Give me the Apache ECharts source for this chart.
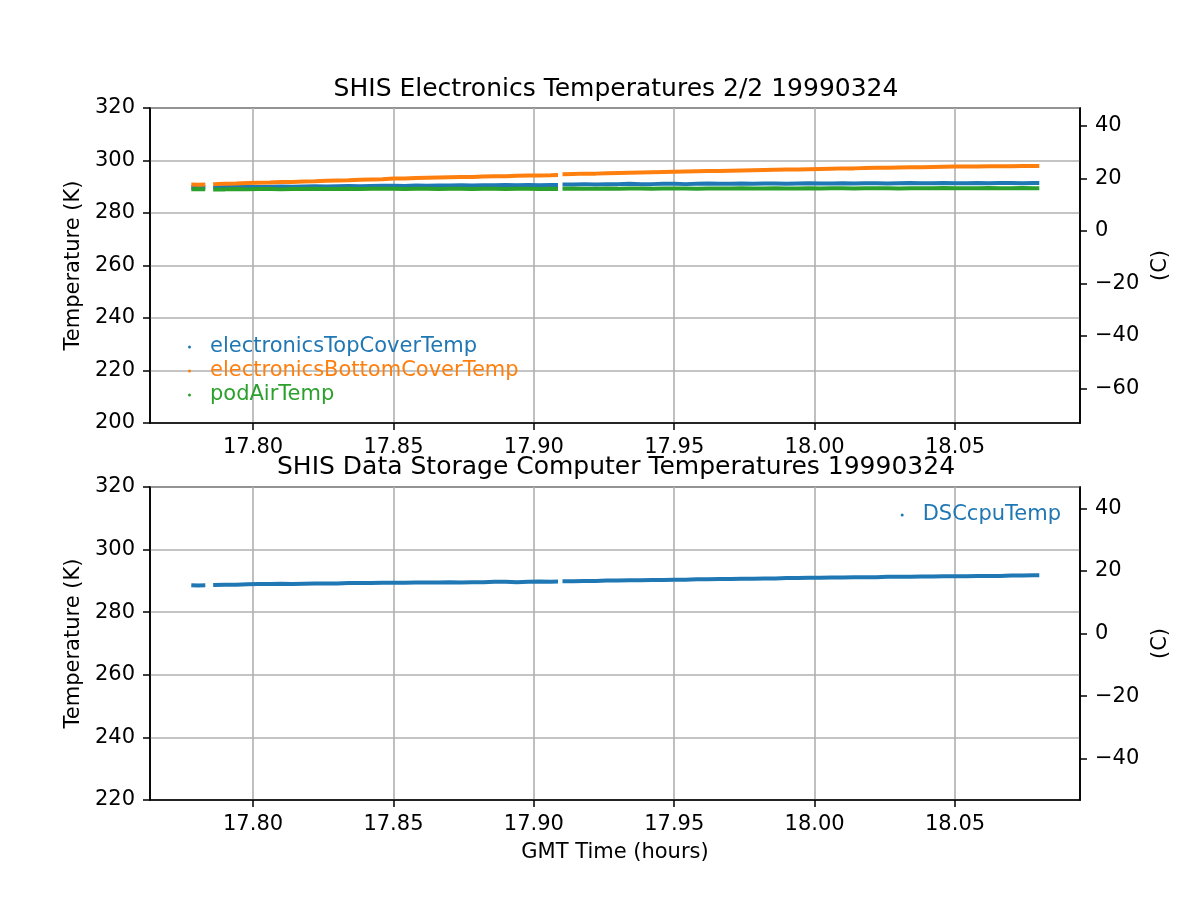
<!DOCTYPE html>
<html>
<head>
<meta charset="utf-8">
<script src="https://cdn.jsdelivr.net/npm/echarts@6/dist/echarts.min.js"></script>
<style>html,body{margin:0;padding:0;background:#fff;}#c{width:1200px;height:900px;}</style>
</head>
<body>
<div id="c"></div>
<script>
// ---- data (GMT hours; null marks gaps in the record) ----
var times = [
  17.7780, 17.7805, 17.7830,
  17.7845,
  17.7858, 17.790, 17.794, 17.798, 17.802, 17.806, 17.810, 17.814, 17.818, 17.822,
  17.826, 17.830, 17.834, 17.838, 17.842, 17.846, 17.850, 17.854, 17.858, 17.862,
  17.866, 17.870, 17.874, 17.878, 17.882, 17.886, 17.890, 17.894, 17.898, 17.902,
  17.906, 17.9086,
  17.9094,
  17.9102, 17.914, 17.918, 17.922, 17.926, 17.930, 17.934, 17.938, 17.942, 17.946,
  17.950, 17.954, 17.958, 17.962, 17.966, 17.970, 17.974, 17.978, 17.982, 17.986,
  17.990, 17.994, 17.998, 18.002, 18.006, 18.010, 18.014, 18.018, 18.022, 18.026,
  18.030, 18.034, 18.038, 18.042, 18.046, 18.050, 18.054, 18.058, 18.062, 18.066,
  18.070, 18.074, 18.078, 18.080
];
var electronicsTopCoverTemp = [
  289.8, 289.9, 289.8,
  null,
  289.8, 289.9, 289.9, 290.0, 289.9, 290.0, 290.1, 290.0, 290.1, 290.2,
  290.1, 290.2, 290.3, 290.2, 290.3, 290.4, 290.4, 290.3, 290.5, 290.4,
  290.5, 290.5, 290.6, 290.5, 290.6, 290.6, 290.7, 290.6, 290.7, 290.6,
  290.7, 290.7,
  null,
  290.9, 290.9, 291.0, 290.9, 291.0, 291.0, 291.1, 291.0, 291.0, 291.1,
  291.1, 291.0, 291.1, 291.2, 291.1, 291.1, 291.2, 291.1, 291.2, 291.2,
  291.1, 291.2, 291.3, 291.2, 291.2, 291.3, 291.2, 291.3, 291.3, 291.2,
  291.3, 291.4, 291.3, 291.3, 291.4, 291.3, 291.3, 291.4, 291.3, 291.4,
  291.4, 291.3, 291.4, 291.4
];
var electronicsBottomCoverTemp = [
  290.9, 290.8, 290.9,
  null,
  291.0, 291.1, 291.2, 291.4, 291.5, 291.6, 291.8, 291.8, 292.0, 292.1,
  292.3, 292.4, 292.5, 292.7, 292.8, 292.9, 293.1, 293.1, 293.3, 293.4,
  293.5, 293.6, 293.7, 293.7, 293.9, 294.0, 294.0, 294.2, 294.3, 294.3,
  294.4, 294.5,
  null,
  294.8, 294.9, 295.0, 295.0, 295.1, 295.2, 295.3, 295.4, 295.5, 295.6,
  295.7, 295.8, 295.9, 296.0, 296.0, 296.1, 296.2, 296.3, 296.4, 296.5,
  296.6, 296.6, 296.7, 296.8, 296.9, 297.0, 297.0, 297.1, 297.2, 297.2,
  297.3, 297.4, 297.4, 297.5, 297.6, 297.7, 297.7, 297.7, 297.8, 297.8,
  297.8, 297.9, 297.9, 297.9
];
var podAirTemp = [
  289.0, 289.1, 289.0,
  null,
  289.0, 289.0, 289.1, 289.0, 289.1, 289.1, 289.0, 289.1, 289.1, 289.2,
  289.1, 289.1, 289.2, 289.1, 289.2, 289.2, 289.2, 289.1, 289.2, 289.2,
  289.1, 289.2, 289.2, 289.1, 289.2, 289.2, 289.1, 289.2, 289.2, 289.1,
  289.2, 289.1,
  null,
  289.2, 289.3, 289.2, 289.2, 289.3, 289.2, 289.3, 289.3, 289.2, 289.3,
  289.3, 289.3, 289.2, 289.3, 289.3, 289.3, 289.4, 289.3, 289.3, 289.4,
  289.3, 289.3, 289.4, 289.3, 289.4, 289.4, 289.3, 289.4, 289.4, 289.4,
  289.3, 289.4, 289.4, 289.4, 289.5, 289.4, 289.4, 289.4, 289.5, 289.4,
  289.4, 289.5, 289.4, 289.4
];
var DSCcpuTemp = [
  288.6, 288.5, 288.6,
  null,
  288.7, 288.8, 288.8, 288.9, 289.0, 289.0, 289.1, 289.0, 289.1, 289.2,
  289.2, 289.2, 289.3, 289.3, 289.3, 289.4, 289.4, 289.4, 289.5, 289.5,
  289.5, 289.6, 289.5, 289.6, 289.6, 289.7, 289.7, 289.6, 289.7, 289.8,
  289.7, 289.8,
  null,
  289.9, 289.9, 290.0, 290.0, 290.1, 290.1, 290.2, 290.2, 290.3, 290.3,
  290.4, 290.4, 290.5, 290.5, 290.6, 290.6, 290.7, 290.7, 290.8, 290.8,
  290.9, 290.9, 291.0, 291.0, 291.1, 291.1, 291.2, 291.2, 291.2, 291.3,
  291.3, 291.3, 291.4, 291.4, 291.5, 291.5, 291.5, 291.6, 291.6, 291.6,
  291.7, 291.7, 291.8, 291.8
];
var xTicks = [17.80, 17.85, 17.90, 17.95, 18.00, 18.05];
var cTicksTop = [-60, -40, -20, 0, 20, 40];
var cTicksBottom = [-40, -20, 0, 20, 40];
var KELVIN = 273.15;
var titles = ['SHIS Electronics Temperatures 2/2 19990324', 'SHIS Data Storage Computer Temperatures 19990324'];

// ---- build ----
function pairs(vals){ return times.map(function(t,i){ return [t, vals[i]]; }); }
var FONT = 'DejaVu Sans';
var FS = 21;
var C = {blue:'#1f77b4', orange:'#ff7f0e', green:'#2ca02c'};
var xMin = 17.7633, xMax = 18.0945;

function xAxisCfg(gi, name){
  return {
    type:'value', gridIndex:gi, min:xMin, max:xMax,
    name: name || '', nameLocation:'middle', nameGap:42,
    nameTextStyle:{fontFamily:FONT, fontSize:FS, color:'#000'},
    axisLine:{show:true, onZero:false, lineStyle:{color:'#000', width:1.6}},
    axisTick:{show:true, inside:false, length:7, customValues:xTicks, lineStyle:{color:'#000', width:1.5}},
    axisLabel:{show:true, margin:14, customValues:xTicks, fontFamily:FONT, fontSize:FS, color:'#000',
      formatter:function(v){ return Number(v).toFixed(2); }},
    splitLine:{show:true, lineStyle:{color:'#b0b0b0', width:1.6}}
  };
}
function yAxisK(gi, min){
  return {
    type:'value', gridIndex:gi, min:min, max:320, interval:20, position:'left',
    name:'Temperature (K)', nameLocation:'middle', nameGap:62,
    nameTextStyle:{fontFamily:FONT, fontSize:FS, color:'#000'},
    axisLine:{show:true, onZero:false, lineStyle:{color:'#000', width:1.6}},
    axisTick:{show:true, length:7, lineStyle:{color:'#000', width:1.5}},
    axisLabel:{margin:15, fontFamily:FONT, fontSize:FS, color:'#000'},
    splitLine:{show:true, lineStyle:{color:'#b0b0b0', width:1.6}}
  };
}
function yAxisC(gi, min, ticks){
  return {
    type:'value', gridIndex:gi, min:min - KELVIN, max:320 - KELVIN, position:'right',
    name:'(C)', nameLocation:'middle', nameGap:66, nameRotate:90,
    nameTextStyle:{fontFamily:FONT, fontSize:FS, color:'#000'},
    axisLine:{show:true, onZero:false, lineStyle:{color:'#000', width:1.6}},
    axisTick:{show:true, length:7, customValues:ticks, lineStyle:{color:'#000', width:1.5}},
    axisLabel:{margin:15, customValues:ticks, fontFamily:FONT, fontSize:FS, color:'#000',
      formatter:function(v){ return v < 0 ? '\u2212' + Math.abs(v) : String(v); }},
    splitLine:{show:false}
  };
}
function lineSeries(name, vals, color, xi, yi){
  return {
    name:name, type:'line', xAxisIndex:xi, yAxisIndex:yi, data:pairs(vals),
    showSymbol:false, connectNulls:false, animation:false,
    lineStyle:{color:color, width:4}, itemStyle:{color:color}
  };
}

var chart = echarts.init(document.getElementById('c'), null, {renderer:'canvas'});
chart.setOption({
  backgroundColor:'#fff',
  animation:false,
  title:[
    {text:titles[0], left:611, top:72, textAlign:'center',
     textStyle:{fontFamily:FONT, fontSize:25, fontWeight:'normal', color:'#000'}},
    {text:titles[1], left:611, top:450, textAlign:'center',
     textStyle:{fontFamily:FONT, fontSize:25, fontWeight:'normal', color:'#000'}}
  ],
  grid:[
    {left:150, right:120, top:108, height:315, show:true, borderColor:'#000', borderWidth:1.6, backgroundColor:'transparent'},
    {left:150, right:120, top:487, height:313, show:true, borderColor:'#000', borderWidth:1.6, backgroundColor:'transparent'}
  ],
  xAxis:[ xAxisCfg(0, ''), xAxisCfg(1, 'GMT Time (hours)') ],
  yAxis:[ yAxisK(0, 200), yAxisC(0, 200, cTicksTop), yAxisK(1, 220), yAxisC(1, 220, cTicksBottom) ],
  legend:[
    {orient:'vertical', left:188, top:335, padding:0, itemGap:0, icon:'circle', itemWidth:3, itemHeight:3,
     textStyle:{fontFamily:FONT, fontSize:FS, lineHeight:24, padding:[0,0,0,14]},
     data:[
       {name:'electronicsTopCoverTemp', textStyle:{color:C.blue}},
       {name:'electronicsBottomCoverTemp', textStyle:{color:C.orange}},
       {name:'podAirTemp', textStyle:{color:C.green}}
     ]},
    {orient:'vertical', right:139, top:503, padding:0, icon:'circle', itemWidth:3, itemHeight:3,
     textStyle:{fontFamily:FONT, fontSize:FS, lineHeight:24, padding:[0,0,0,14]},
     data:[ {name:'DSCcpuTemp', textStyle:{color:C.blue}} ]}
  ],
  series:[
    lineSeries('electronicsTopCoverTemp', electronicsTopCoverTemp, C.blue, 0, 0),
    lineSeries('electronicsBottomCoverTemp', electronicsBottomCoverTemp, C.orange, 0, 0),
    lineSeries('podAirTemp', podAirTemp, C.green, 0, 0),
    lineSeries('DSCcpuTemp', DSCcpuTemp, C.blue, 1, 2)
  ]
});
</script>
</body>
</html>
